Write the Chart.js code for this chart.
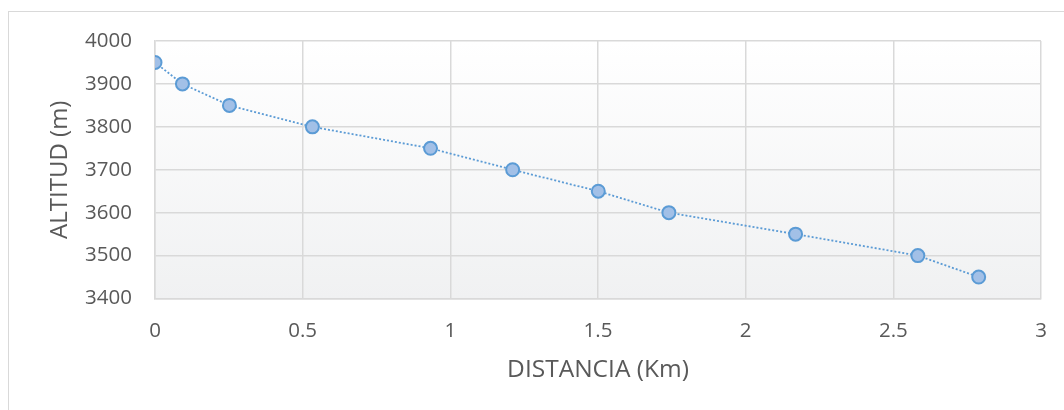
<!DOCTYPE html>
<html lang="es">
<head>
<meta charset="utf-8">
<title>Perfil de altitud</title>
<script src="https://cdn.jsdelivr.net/npm/chart.js@4/dist/chart.umd.min.js"></script>
<style>
    html, body { margin: 0; padding: 0; background: #fff; }
    #marco {
        position: absolute; left: 8px; top: 11px; width: 1070px; height: 410px;
        border-top: 1px solid #d9d9d9; border-left: 1px solid #d9d9d9;
    }
    #lienzo { position: absolute; left: 0; top: 0; width: 1064px; height: 410px; }
</style>
</head>
<body>
<div id="marco"></div>
<div id="lienzo"><canvas id="perfilChart" width="1064" height="410"></canvas></div>
<script>
// Datos del perfil
const distancias = [0, 0.093, 0.252, 0.533, 0.933, 1.211, 1.501, 1.740, 2.169, 2.583, 2.789];
const altitudes = [3950, 3900, 3850, 3800, 3750, 3700, 3650, 3600, 3550, 3500, 3450];
const ejeX = { min: 0, max: 3, paso: 0.5, titulo: 'DISTANCIA (Km)' };
const ejeY = { min: 3400, max: 4000, paso: 100, titulo: 'ALTITUD (m)' };

const puntos = distancias.map((d, i) => ({ x: d, y: altitudes[i] }));

const FUENTE = "'Open Sans', 'DejaVu Sans', sans-serif";
const GRIS_TEXTO = '#595959';
const GRIS_REJILLA = '#d9d9d9';

// Números sin separador de miles ni decimales sobrantes
const etiqueta = v => String(Math.round(v * 100) / 100);

// Fondo degradado del área de trazado
const fondoPlugin = {
    id: 'fondoPlot',
    beforeDraw: function(chart) {
        const { ctx, chartArea } = chart;
        if (!chartArea) return;
        const g = ctx.createLinearGradient(0, chartArea.top, 0, chartArea.bottom);
        g.addColorStop(0, '#ffffff');
        g.addColorStop(1, '#f0f1f2');
        ctx.save();
        ctx.fillStyle = g;
        ctx.fillRect(chartArea.left, chartArea.top, chartArea.right - chartArea.left, chartArea.bottom - chartArea.top);
        ctx.restore();
    }
};

new Chart(document.getElementById('perfilChart'), {
    type: 'scatter',
    data: {
        datasets: [{
            data: puntos,
            showLine: true,
            borderColor: '#5b9bd5',
            borderWidth: 1.8,
            borderDash: [2, 2],
            pointRadius: 6.5,
            pointBackgroundColor: '#a2c0e7',
            pointBorderColor: '#5b9bd5',
            pointBorderWidth: 2,
            pointHoverRadius: 6.5
        }]
    },
    options: {
        responsive: false,
        animation: false,
        layout: { padding: { left: 0, top: 41, right: 23, bottom: 0 } },
        plugins: {
            legend: { display: false },
            tooltip: { enabled: false }
        },
        scales: {
            x: {
                type: 'linear',
                min: ejeX.min,
                max: ejeX.max,
                afterFit: function(scale) {
                    scale.height = 111.5;
                    // el margen lateral lo fija layout.padding
                    scale.paddingLeft = 0;
                    scale.paddingRight = 0;
                },
                grid: { color: GRIS_REJILLA, lineWidth: 1.5, drawTicks: false },
                border: { color: GRIS_REJILLA, width: 1.5 },
                ticks: {
                    stepSize: ejeX.paso,
                    padding: 20,
                    color: GRIS_TEXTO,
                    font: { family: FUENTE, size: 20.5 },
                    maxRotation: 0,
                    callback: etiqueta
                },
                title: {
                    display: true,
                    text: ejeX.titulo,
                    color: GRIS_TEXTO,
                    font: { family: FUENTE, size: 24.5 },
                    padding: { top: 0, bottom: 25 }
                }
            },
            y: {
                min: ejeY.min,
                max: ejeY.max,
                afterFit: function(scale) {
                    scale.width = 155;
                    scale.paddingTop = 0;
                    scale.paddingBottom = 0;
                },
                grid: { color: GRIS_REJILLA, lineWidth: 1.5, drawTicks: false },
                border: { color: GRIS_REJILLA, width: 1.5 },
                ticks: {
                    stepSize: ejeY.paso,
                    padding: 23,
                    color: GRIS_TEXTO,
                    font: { family: FUENTE, size: 20.5 },
                    callback: etiqueta
                },
                title: {
                    display: true,
                    text: ejeY.titulo,
                    color: GRIS_TEXTO,
                    font: { family: FUENTE, size: 24 },
                    padding: { top: 46, bottom: 0 }
                }
            }
        }
    },
    plugins: [fondoPlugin]
});
</script>
</body>
</html>
